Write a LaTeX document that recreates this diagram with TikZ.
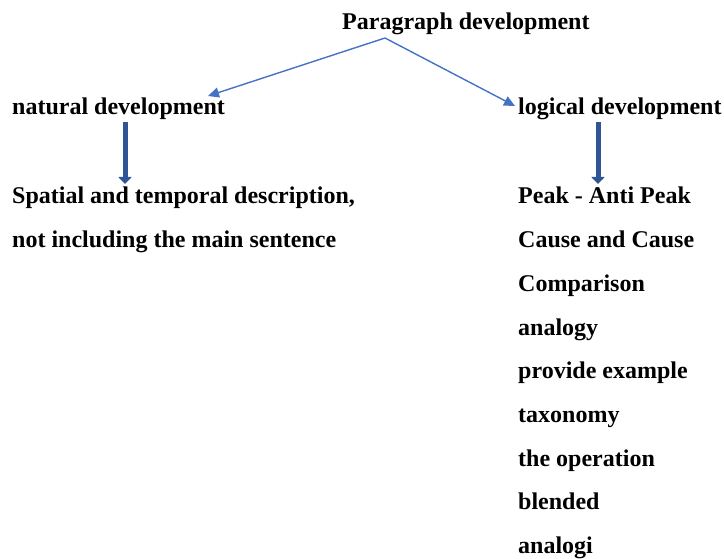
\documentclass[tikz,border=0pt]{standalone}
\usepackage{fontspec}
\setmainfont{Liberation Serif}
\usetikzlibrary{arrows.meta}
\definecolor{thinblue}{HTML}{4472C4}
\definecolor{blockblue}{HTML}{2F5597}
\begin{document}
\begin{tikzpicture}[x=1pt,y=-1pt,
  lbl/.style={anchor=base west,inner sep=0pt,font=\fontsize{24}{26}\selectfont\bfseries,text=black},
  thinarrow/.style={draw=thinblue,line width=1.4pt,-{Triangle[length=11pt,width=10pt]}},
  blockarrow/.style={draw=blockblue,line width=5pt,-{Triangle[length=7pt,width=13pt]}}]
\useasboundingbox (0,0) rectangle (724,559);
\node[lbl] (title) at (342,30) {Paragraph development};
\node[lbl] (nat) at (12,115) {natural development};
\node[lbl] (log) at (518,115) {logical development};
\node[lbl] (sp1) at (12,204) {Spatial and temporal description,};
\node[lbl] (sp2) at (12,248) {not including the main sentence};
\node[lbl] (l1) at (518,204) {Peak - Anti Peak};
\node[lbl] (l2) at (518,248) {Cause and Cause};
\node[lbl] (l3) at (518,291) {Comparison};
\node[lbl] (l4) at (518,335) {analogy};
\node[lbl] (l5) at (518,378) {provide example};
\node[lbl] (l6) at (518,422) {taxonomy};
\node[lbl] (l7) at (518,466) {the operation};
\node[lbl] (l8) at (518,509) {blended};
\node[lbl] (l9) at (518,553) {analogi};
\coordinate (apex) at (385,38);
\coordinate (natTip) at (208,96);
\coordinate (logTip) at (515,106);
\draw[thinarrow] (apex) -- (natTip);
\draw[thinarrow] (apex) -- (logTip);
\coordinate (natTop) at (125,122);
\coordinate (natBot) at (125,184);
\coordinate (logTop) at (598,122);
\coordinate (logBot) at (598,184);
\draw[blockarrow] (natTop) -- (natBot);
\draw[blockarrow] (logTop) -- (logBot);
\end{tikzpicture}
\end{document}
